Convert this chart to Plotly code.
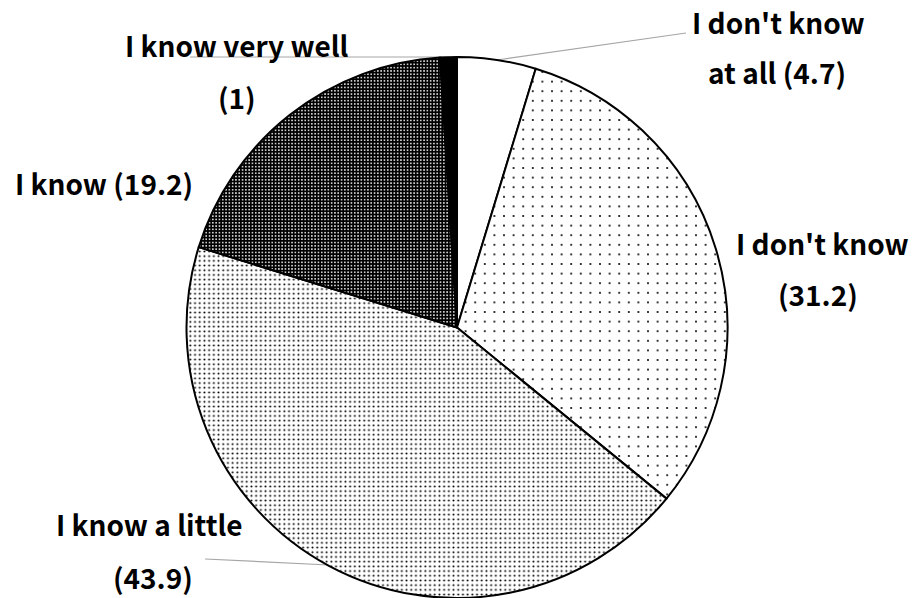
import plotly.graph_objects as go

categories = ["I don't know at all", "I don't know", "I know a little", "I know", "I know very well"]
values = [4.7, 31.2, 43.9, 19.2, 1]
label_lines = [
    ["I don't know", "at all (4.7)"],
    ["I don't know", "(31.2)"],
    ["I know a little", "(43.9)"],
    ["I know (19.2)"],
    ["I know very well", "(1)"],
]

W, H = 920, 598
FONT = "Noto Sans CJK KR"

fig = go.Figure()
fig.add_trace(go.Pie(
    labels=categories,
    values=values,
    sort=False,
    direction="clockwise",
    rotation=0,
    textinfo="none",
    hoverinfo="label+value",
    showlegend=False,
    domain=dict(x=[186 / W, 728 / W], y=[0.0, 541 / H]),
    marker=dict(
        colors=["#ffffff", "#ffffff", "#ffffff", "#000000", "#000000"],
        line=dict(color="#000000", width=2),
        pattern=dict(
            shape=["", ".", ".", ".", ""],
            fgcolor=["#000000", "#000000", "#000000", "#ffffff", "#000000"],
            bgcolor=["#ffffff", "#ffffff", "#ffffff", "#000000", "#000000"],
            size=[8, 9.6, 4.7, 3.3, 8],
            solidity=[0.0, 0.035, 0.15, 0.22, 0.0],
            fillmode="replace",
        ),
    ),
))

# label positions (pixel centers) for each line
label_pos = [
    [(778, 22), (777, 72)],
    [(822, 243), (818, 294)],
    [(149, 524), (153, 577)],
    [(104, 183)],
    [(237, 45), (237, 97)],
]

annotations = []
for lines, pos in zip(label_lines, label_pos):
    for t, (px, py) in zip(lines, pos):
        annotations.append(dict(
            x=px / W, y=1 - py / H, xref="paper", yref="paper",
            text="<b>" + t + "</b>", showarrow=False,
            xanchor="center", yanchor="middle",
            font=dict(family=FONT, size=28, color="#000000"),
        ))

leaders = [
    ((497, 60), (686, 33)),
    ((190, 57), (449, 57)),
    ((205, 559), (329, 565)),
]
shapes = []
for (x0, y0), (x1, y1) in leaders:
    shapes.append(dict(
        type="line", xref="paper", yref="paper",
        x0=x0 / W, y0=1 - y0 / H, x1=x1 / W, y1=1 - y1 / H,
        line=dict(color="#a6a6a6", width=1.2), layer="below",
    ))

fig.update_layout(
    width=W, height=H,
    margin=dict(l=0, r=0, t=0, b=0),
    paper_bgcolor="#ffffff",
    plot_bgcolor="#ffffff",
    annotations=annotations,
    shapes=shapes,
)

fig.write_html("out.html")
